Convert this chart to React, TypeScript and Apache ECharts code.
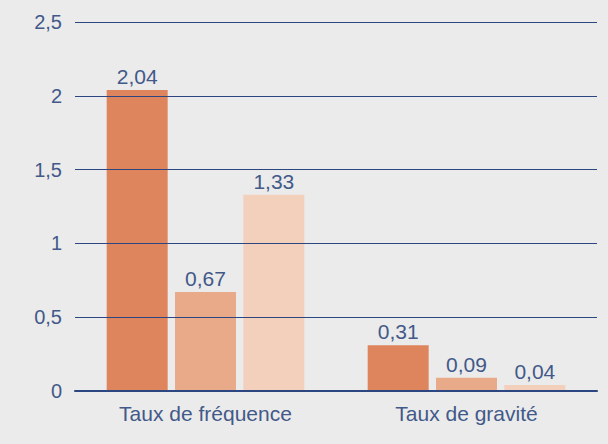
import React, { useEffect, useRef } from "react";
import * as echarts from "echarts";

const categories = ["Taux de fréquence", "Taux de gravité"];
const series1 = [2.04, 0.31];
const series2 = [0.67, 0.09];
const series3 = [1.33, 0.04];
const colors = ["#df855e", "#e9aa8a", "#f2d0bc"];
const yTicks = { min: 0, max: 2.5, interval: 0.5 };

const fmt = (v: number) => String(v).replace(".", ",");

export default function App() {
  const ref = useRef<HTMLDivElement>(null);
  useEffect(() => {
    if (!ref.current) return;
    const chart = echarts.init(ref.current, null, { renderer: "svg" });
    const textColor = "#425989";
    const lineColor = "#2b4680";
    const font = "'Liberation Sans', Arial, sans-serif";
    const mk = (data: number[], color: string) => ({
      type: "bar",
      data,
      barWidth: 61,
      barGap: "12%",
      itemStyle: { color },
      label: {
        show: true,
        position: "top",
        distance: 3,
        color: textColor,
        fontSize: 21,
        fontFamily: font,
        formatter: (p: any) => fmt(p.value),
      },
    });
    chart.setOption({
      animation: false,
      backgroundColor: "#ebebeb",
      grid: { left: 75, right: 11, top: 22, bottom: 53 },
      xAxis: {
        type: "category",
        data: categories,
        z: 5,
        axisLine: { show: true, lineStyle: { color: lineColor, width: 2 } },
        axisTick: { show: false },
        axisLabel: { color: textColor, fontSize: 21, fontFamily: font, margin: 12 },
      },
      yAxis: {
        type: "value",
        min: yTicks.min,
        max: yTicks.max,
        interval: yTicks.interval,
        z: 5,
        axisLine: { show: false },
        axisTick: { show: false },
        splitLine: { show: true, lineStyle: { color: lineColor, width: 1 } },
        axisLabel: {
          color: textColor,
          fontSize: 20,
          fontFamily: font,
          margin: 13,
          formatter: (v: number) => fmt(v),
        },
      },
      series: [mk(series1, colors[0]), mk(series2, colors[1]), mk(series3, colors[2])],
    });
    return () => chart.dispose();
  }, []);
  return (
    <div
      ref={ref}
      style={{ position: "fixed", left: 0, top: 0, width: 608, height: 444 }}
    />
  );
}
